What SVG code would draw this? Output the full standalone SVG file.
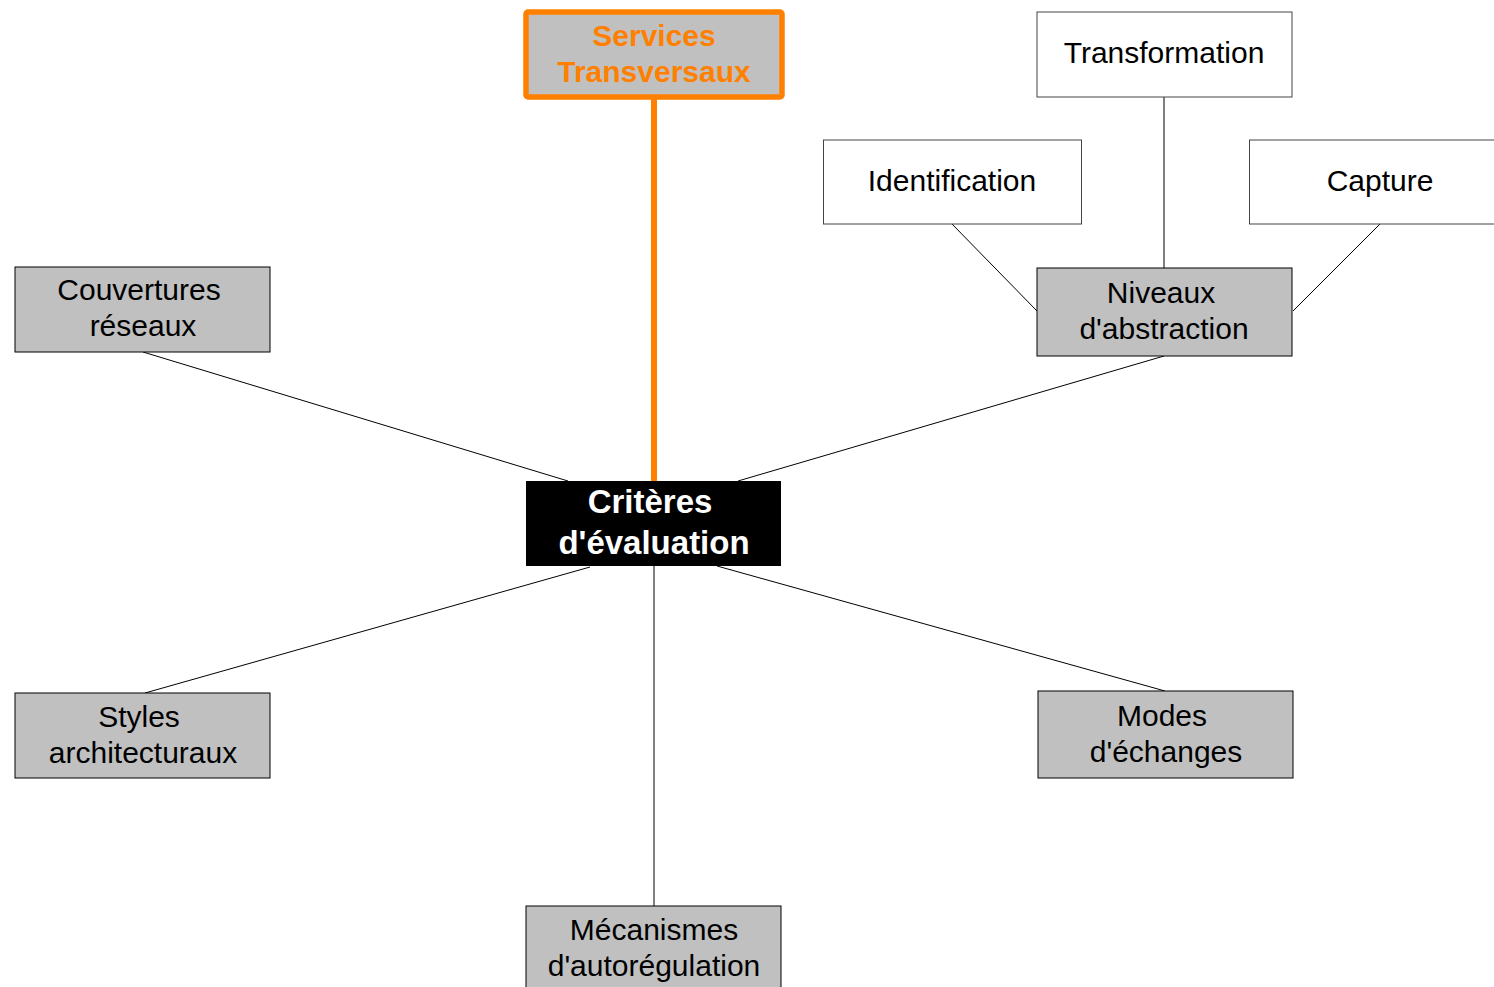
<svg xmlns="http://www.w3.org/2000/svg" width="1494" height="987" viewBox="0 0 1494 987">
  <style>
    .box { fill: #c0c0c0; stroke: #000; stroke-width: 1; }
    .white { fill: #fff; stroke: #444; stroke-width: 1; }
    .lbl { font-family: "Liberation Sans", Arial, sans-serif; font-size: 30px; fill: #000; text-anchor: middle; }
    .link { stroke: #000; stroke-width: 1; fill: none; }
  </style>
  <rect width="1494" height="987" fill="#fff"/>

  <!-- connectors -->
  <g id="connectors">
    <line class="link" x1="143" y1="352" x2="568" y2="481"/>
    <line class="link" x1="1164" y1="356" x2="738" y2="481"/>
    <line class="link" x1="590" y1="567" x2="145" y2="693"/>
    <line class="link" x1="717" y1="566" x2="1165" y2="691"/>
    <line class="link" x1="654" y1="566" x2="654" y2="906"/>
    <line class="link" x1="1164" y1="97" x2="1164" y2="268"/>
    <line class="link" x1="952" y1="224" x2="1037" y2="311"/>
    <line class="link" x1="1380" y1="224" x2="1293" y2="311"/>
    <line x1="654" y1="98" x2="654" y2="480" stroke="#ff8000" stroke-width="6" stroke-linecap="round"/>
  </g>

  <g id="services">
    <rect x="526" y="12" width="256" height="85" rx="2" fill="#c0c0c0" stroke="#ff8000" stroke-width="5.500"/>
    <text class="lbl" x="654" y="46" style="font-weight:bold;fill:#ff8000">Services</text>
    <text class="lbl" x="654" y="82" style="font-weight:bold;fill:#ff8000">Transversaux</text>
  </g>

  <g id="criteres">
    <rect x="526" y="481" width="255" height="85" fill="#000"/>
    <text class="lbl" x="650" y="513" style="font-weight:bold;fill:#fff;font-size:33px">Critères</text>
    <text class="lbl" x="654" y="554" style="font-weight:bold;fill:#fff;font-size:33px">d'évaluation</text>
  </g>

  <g id="transformation">
    <rect class="white" x="1037" y="12" width="255" height="85"/>
    <text class="lbl" x="1164" y="63">Transformation</text>
  </g>

  <g id="identification">
    <rect class="white" x="823.500" y="140" width="258" height="84"/>
    <text class="lbl" x="952" y="191">Identification</text>
  </g>

  <g id="capture">
    <rect class="white" x="1249.500" y="140" width="260" height="84"/>
    <text class="lbl" x="1380" y="191">Capture</text>
  </g>

  <g id="niveaux">
    <rect class="box" x="1037" y="268" width="255" height="88"/>
    <text class="lbl" x="1161" y="303">Niveaux</text>
    <text class="lbl" x="1164" y="339">d'abstraction</text>
  </g>

  <g id="couvertures">
    <rect class="box" x="15" y="267" width="255" height="85"/>
    <text class="lbl" x="139" y="300">Couvertures</text>
    <text class="lbl" x="143" y="336">réseaux</text>
  </g>

  <g id="styles">
    <rect class="box" x="15" y="693" width="255" height="85"/>
    <text class="lbl" x="139" y="727">Styles</text>
    <text class="lbl" x="143" y="763">architecturaux</text>
  </g>

  <g id="modes">
    <rect class="box" x="1038" y="691" width="255" height="87"/>
    <text class="lbl" x="1162" y="726">Modes</text>
    <text class="lbl" x="1166" y="762">d'échanges</text>
  </g>

  <g id="mecanismes">
    <rect class="box" x="526" y="906" width="255" height="90"/>
    <text class="lbl" x="654" y="940">Mécanismes</text>
    <text class="lbl" x="654" y="976">d'autorégulation</text>
  </g>
</svg>
